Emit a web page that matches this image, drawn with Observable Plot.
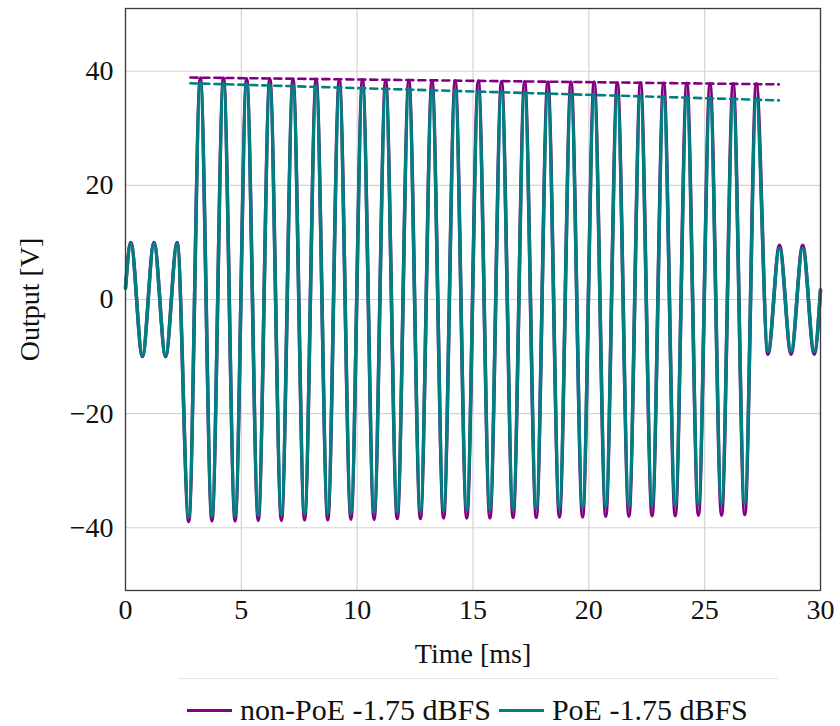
<!DOCTYPE html>
<html>
<head>
<meta charset="utf-8">
<script src="https://cdn.jsdelivr.net/npm/d3@7"></script>
<script src="https://cdn.jsdelivr.net/npm/@observablehq/plot@0.6"></script>
<style>
  body { margin: 0; background: white; }
  #chart svg { display: block; }
  #legend { position: relative; width: 840px; height: 54px; font-family: "Liberation Serif", serif; font-size: 30px; color: #111; }
  #legend .box { position: absolute; left: 178px; top: 6px; width: 600px; height: 60px; border-top: 1px solid #e6e6e6; }
  #legend .item { position: absolute; top: 21px; display: flex; align-items: center; white-space: nowrap; }
  #legend .sw { width: 45px; height: 3px; margin-right: 8px; }
</style>
</head>
<body>
<div id="chart"></div>
<div id="legend"></div>
<script>
// ---- data ----
const seriesNames = ["non-PoE -1.75 dBFS", "PoE -1.75 dBFS"];
const seriesColors = ["#800080", "#008080"];
const xTicks = [0, 5, 10, 15, 20, 25, 30];
const yTicks = [-40, -20, 0, 20, 40];

// times (ms) of successive peaks / troughs of the waveform
const extremaTimes = [0.23,0.73,1.23,1.73,2.23,2.73,3.23,3.73,4.23,4.73,5.23,5.73,6.23,6.73,7.23,7.73,8.23,8.73,9.23,9.73,
  10.23,10.73,11.23,11.73,12.23,12.73,13.23,13.73,14.23,14.73,15.23,15.73,16.23,16.73,17.23,17.73,18.23,18.73,19.23,19.73,
  20.23,20.73,21.23,21.73,22.23,22.73,23.23,23.73,24.23,24.73,25.23,25.73,26.23,26.73,27.23,27.73,28.23,28.73,29.23,29.73];
const tStart = 0, tEnd = 30;

// non-PoE
const nonPoEStart = 2.0;
const nonPoELowStart = [10.0, -10.0, 10.0, -10.0, 10.0];
const nonPoEHighTroughs = [-38.9,-38.8,-38.8,-38.7,-38.7,-38.6,-38.6,-38.5,-38.5,-38.4,-38.4,-38.3,-38.3,-38.3,-38.2,-38.2,-38.1,-38.1,-38.0,-38.0,-37.9,-37.9,-37.8,-37.8,-37.7];
const nonPoEHighPeaks = [38.8,38.8,38.7,38.7,38.6,38.6,38.5,38.5,38.4,38.4,38.4,38.3,38.3,38.2,38.2,38.1,38.1,38.1,38.0,38.0,37.9,37.9,37.8,37.8,37.8];
const nonPoELowEnd = [-9.6, 9.5, -9.6, 9.5, -9.6];
const nonPoEEnd = 1.7;

// PoE
const poeStart = 2.0;
const poeLowStart = [9.8, -9.8, 9.8, -9.8, 9.8];
const poeHighTroughs = [-38.1,-38.0,-37.9,-37.8,-37.7,-37.6,-37.5,-37.4,-37.3,-37.2,-37.1,-37.0,-36.9,-36.8,-36.7,-36.6,-36.5,-36.4,-36.3,-36.2,-36.1,-36.0,-35.9,-35.8,-35.7];
const poeHighPeaks = [38.0,37.9,37.8,37.6,37.5,37.4,37.3,37.2,37.0,36.9,36.8,36.7,36.6,36.5,36.3,36.2,36.1,36.0,35.9,35.7,35.6,35.5,35.4,35.3,35.2];
const poeLowEnd = [-9.1, 9.0, -9.1, 9.0, -9.1];
const poeEnd = 1.6;

// dashed peak trend lines
const envTimes = [2.8, 28.2];
const nonPoEEnvelope = [38.9, 37.7];
const poeEnvelope = [37.9, 34.9];

// ---- build tables ----
function buildSeries(name, start, lowStart, troughs, peaks, lowEnd, end) {
  const vals = [start, ...lowStart];
  troughs.forEach((tr, i) => { vals.push(tr, peaks[i]); });
  vals.push(...lowEnd, end);
  const times = [tStart, ...extremaTimes, tEnd];
  return times.map((t, i) => ({t, v: vals[i], s: name}));
}
const wave = [
  ...buildSeries(seriesNames[0], nonPoEStart, nonPoELowStart, nonPoEHighTroughs, nonPoEHighPeaks, nonPoELowEnd, nonPoEEnd),
  ...buildSeries(seriesNames[1], poeStart, poeLowStart, poeHighTroughs, poeHighPeaks, poeLowEnd, poeEnd)
];
const env = [
  ...envTimes.map((t, i) => ({t, v: nonPoEEnvelope[i], s: seriesNames[0]})),
  ...envTimes.map((t, i) => ({t, v: poeEnvelope[i], s: seriesNames[1]}))
];

const fmt = d => d < 0 ? "\u2212" + (-d) : String(d);

const chart = Plot.plot({
  width: 840,
  height: 672,
  marginTop: 8,
  marginBottom: 82,
  marginLeft: 125,
  marginRight: 20,
  style: {fontFamily: "'Liberation Serif', serif", fontSize: "28px", background: "white", color: "#111"},
  x: {domain: [0, 30]},
  y: {domain: [-51, 51]},
  color: {domain: seriesNames, range: seriesColors},
  marks: [
    Plot.gridX(xTicks, {stroke: "#d4d4d4", strokeOpacity: 1, strokeWidth: 1.2}),
    Plot.gridY(yTicks, {stroke: "#d4d4d4", strokeOpacity: 1, strokeWidth: 1.2}),
    Plot.axisX(xTicks, {tickSize: 0, tickPadding: 9, tickFormat: fmt, label: "Time [ms]", labelAnchor: "center", labelOffset: 72, labelArrow: "none"}),
    Plot.axisY(yTicks, {tickSize: 0, tickPadding: 12, tickFormat: fmt, label: "Output [V]", labelAnchor: "center", labelOffset: 106, labelArrow: "none"}),
    Plot.line(wave, {x: "t", y: "v", z: "s", stroke: "s", strokeWidth: 3.5, curve: "monotone-x"}),
    Plot.line(env, {x: "t", y: "v", z: "s", stroke: "s", strokeWidth: 2.6, strokeDasharray: "7,5"}),
    Plot.frame({stroke: "#3a3a3a", strokeWidth: 1.3})
  ]
});
document.getElementById("chart").appendChild(chart);

// legend
const lg = document.getElementById("legend");
lg.innerHTML = '<div class="box"></div>';
let left = 187;
seriesNames.forEach((n, i) => {
  const it = document.createElement("div");
  it.className = "item";
  it.style.left = left + "px";
  it.innerHTML = `<span class="sw" style="background:${seriesColors[i]}"></span><span>${n}</span>`;
  lg.appendChild(it);
  left += it.getBoundingClientRect().width + 8;
});
</script>
</body>
</html>
